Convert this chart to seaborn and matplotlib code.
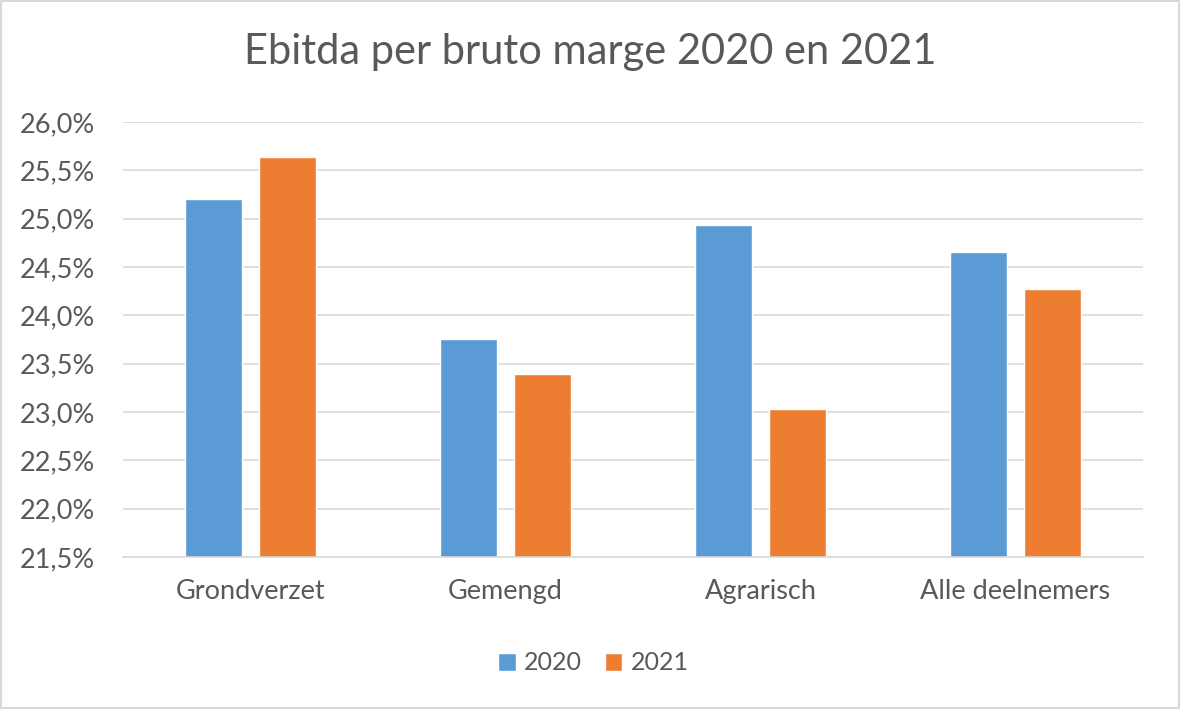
import matplotlib
matplotlib.use("Agg")
import matplotlib.pyplot as plt
from matplotlib.ticker import FuncFormatter
import seaborn as sns
import pandas as pd

sns.set_theme(style="white")
plt.rcParams['font.family'] = ['Lato', 'DejaVu Sans']

categories = ["Grondverzet", "Gemengd", "Agrarisch", "Alle deelnemers"]
years = ["2020", "2021"]
values_2020 = [25.20, 23.76, 24.93, 24.66]
values_2021 = [25.64, 23.39, 23.03, 24.27]

df = pd.DataFrame({
    "Categorie": categories * 2,
    "Jaar": [years[0]] * 4 + [years[1]] * 4,
    "Waarde": values_2020 + values_2021,
})

grey = "#595959"
fig = plt.figure(figsize=(11.8, 7.09), dpi=100)
ax = fig.add_axes([123 / 1180, 1 - 557 / 709, (1143 - 123) / 1180, (557 - 122) / 709])

sns.barplot(data=df, x="Categorie", y="Waarde", hue="Jaar",
            palette=["#5B9BD5", "#ED7D31"], width=0.573, gap=0.22,
            saturation=1, ax=ax, legend=True)

ax.set_ylim(21.5, 26.0)
ax.set_yticks([21.5 + 0.5 * i for i in range(10)])
ax.yaxis.set_major_formatter(FuncFormatter(lambda v, p: f"{v:.1f}%".replace(".", ",")))
ax.grid(axis="y", color="#D9D9D9", linewidth=1.2)
ax.set_axisbelow(True)
for s in ["top", "right", "left"]:
    ax.spines[s].set_visible(False)
ax.spines["bottom"].set_color("#D9D9D9")
ax.spines["bottom"].set_linewidth(1.2)
ax.set_xlabel("")
ax.set_ylabel("")
ax.tick_params(axis="both", colors=grey, labelsize=19.5, length=0)
ax.tick_params(axis="x", pad=16)
ax.tick_params(axis="y", pad=20)

ax.legend(loc="upper center", bbox_to_anchor=(0.503, 1 - 629 / 709), bbox_transform=fig.transFigure,
          ncol=2, frameon=False,
          fontsize=18, labelcolor=grey, handlelength=0.7, handleheight=0.7,
          columnspacing=0.9, handletextpad=0.35)

fig.text(0.5, 1 - 52 / 709, "Ebitda per bruto marge 2020 en 2021", ha="center", va="center",
         fontsize=30, color=grey)

fig.patches.append(plt.Rectangle((0.001, 0.001), 0.998, 0.998, transform=fig.transFigure,
                                 fill=False, edgecolor="#D9D9D9", linewidth=1.5))

fig.savefig("out.png", dpi=100)
